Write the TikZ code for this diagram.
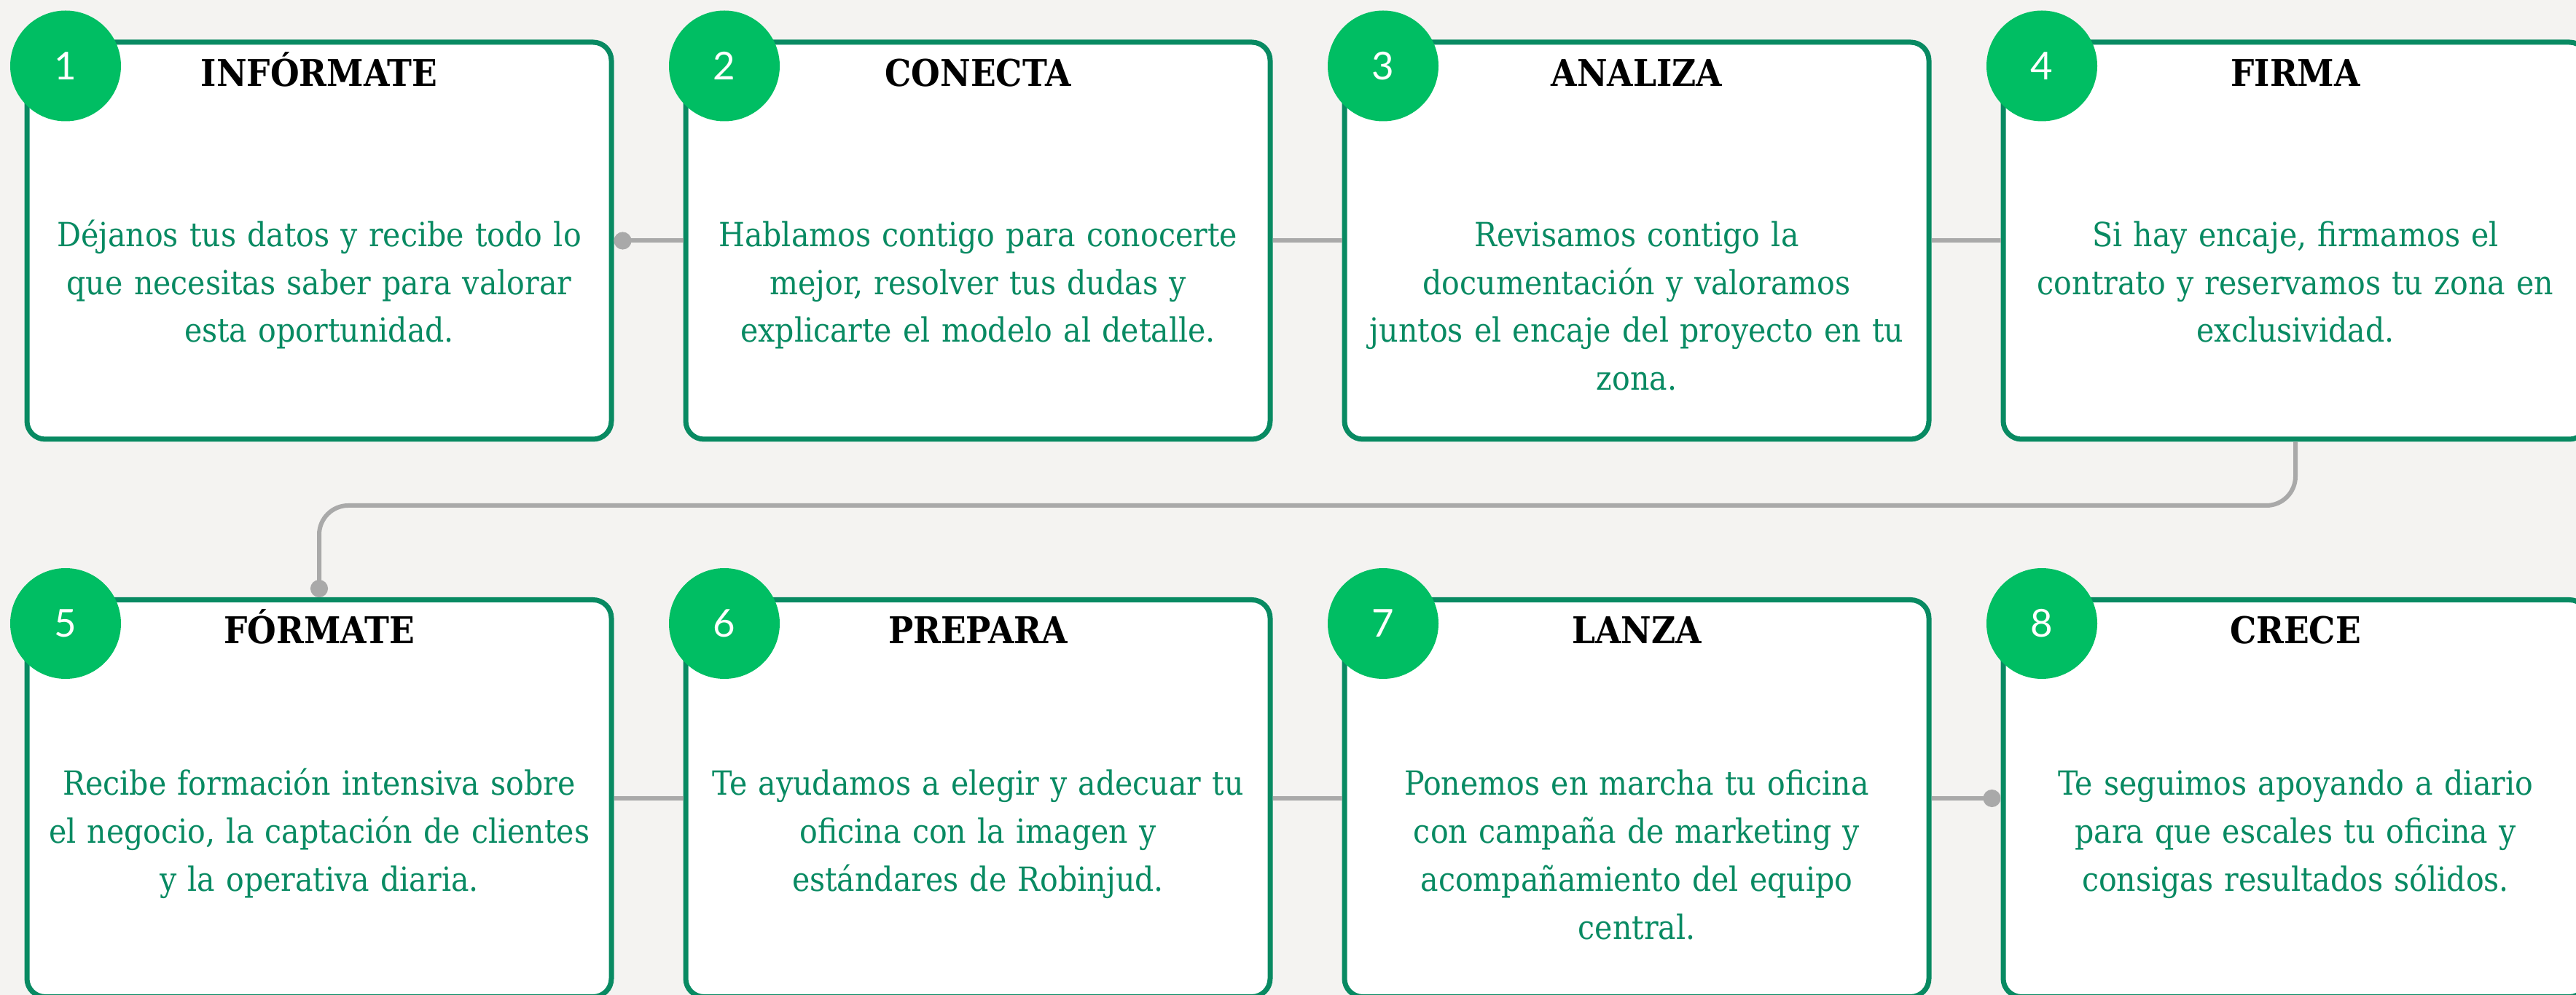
\documentclass[tikz,border=0pt]{standalone}
\usepackage{fontspec}
\setmainfont{DejaVu Serif Condensed}
\newfontfamily\numfont{Lato}
\usetikzlibrary{positioning,calc,arrows.meta}
\definecolor{stepgreen}{HTML}{088A62}
\definecolor{circgreen}{HTML}{00BE63}
\definecolor{linegrey}{HTML}{A9A9A9}
\definecolor{bggrey}{HTML}{F4F3F1}

\begin{document}
\begin{tikzpicture}[
    node distance=2.135cm and 0.95cm,
    stepbox/.style={rectangle,draw=stepgreen,fill=white,line width=0.7mm,rounded corners=2.5mm,minimum width=8.02cm,minimum height=5.45cm},
    num/.style={circle,fill=circgreen,minimum size=1.52cm,inner sep=0pt,text=white,font=\numfont\fontsize{15}{15}\selectfont},
    title/.style={anchor=base,inner sep=0pt,font=\fontsize{14.4}{17}\selectfont\bfseries},
    desc/.style={anchor=base,inner sep=0pt,text width=7.9cm,align=center,text=stepgreen,font=\fontsize{13}{18.7}\selectfont},
    link/.style={draw=linegrey,line width=0.6mm},
    joint/.tip={Circle[length=2.4mm]}
]
    \useasboundingbox (0,0) rectangle (35.35,-13.66);
    \fill[bggrey] (0,0) rectangle (35.35,-13.66);

    % Boxes
    \node[stepbox] (s1) at (4.38,-3.305) {};
    \node[stepbox,right=of s1] (s2) {};
    \node[stepbox,right=of s2] (s3) {};
    \node[stepbox,right=of s3] (s4) {};
    \node[stepbox,below=of s1] (s5) {};
    \node[stepbox,right=of s5] (s6) {};
    \node[stepbox,right=of s6] (s7) {};
    \node[stepbox,right=of s7] (s8) {};

    % Connectors
    \draw[link,{joint}-] (s1) -- (s2);
    \draw[link] (s2) -- (s3);
    \draw[link] (s3) -- (s4);
    \draw[link,rounded corners=4mm,-{joint}] (s4.south) -- ++(0,-0.875) -| (s5.north);
    \draw[link] (s5) -- (s6);
    \draw[link] (s6) -- (s7);
    \draw[link,-{joint}] (s7) -- (s8);

    % Numbers
    \node[num] (n1) at ($(s1.north west)+(0.565,-0.36)$) {1};
    \node[num] (n2) at ($(s2.north west)+(0.565,-0.36)$) {2};
    \node[num] (n3) at ($(s3.north west)+(0.565,-0.36)$) {3};
    \node[num] (n4) at ($(s4.north west)+(0.565,-0.36)$) {4};
    \node[num] (n5) at ($(s5.north west)+(0.565,-0.36)$) {5};
    \node[num] (n6) at ($(s6.north west)+(0.565,-0.36)$) {6};
    \node[num] (n7) at ($(s7.north west)+(0.565,-0.36)$) {7};
    \node[num] (n8) at ($(s8.north west)+(0.565,-0.36)$) {8};

    % Titles
    \node[title] (t1) at ($(s1.north)+(0,-0.64)$) {INFÓRMATE};
    \node[title] (t2) at ($(s2.north)+(0,-0.64)$) {CONECTA};
    \node[title] (t3) at ($(s3.north)+(0,-0.64)$) {ANALIZA};
    \node[title] (t4) at ($(s4.north)+(0,-0.64)$) {FIRMA};
    \node[title] (t5) at ($(s5.north)+(0,-0.64)$) {FÓRMATE};
    \node[title] (t6) at ($(s6.north)+(0,-0.64)$) {PREPARA};
    \node[title] (t7) at ($(s7.north)+(0,-0.64)$) {LANZA};
    \node[title] (t8) at ($(s8.north)+(0,-0.64)$) {CRECE};

    % Descriptions
    \node[desc] (d1) at ($(s1.north)+(0,-2.84)$) {Déjanos tus datos y recibe todo lo\\que necesitas saber para valorar\\esta oportunidad.};
    \node[desc] (d2) at ($(s2.north)+(0,-2.84)$) {Hablamos contigo para conocerte\\mejor, resolver tus dudas y\\explicarte el modelo al detalle.};
    \node[desc] (d3) at ($(s3.north)+(0,-2.84)$) {Revisamos contigo la\\documentación y valoramos\\juntos el encaje del proyecto en tu\\zona.};
    \node[desc] (d4) at ($(s4.north)+(0,-2.84)$) {Si hay encaje, firmamos el\\contrato y reservamos tu zona en\\exclusividad.};
    \node[desc] (d5) at ($(s5.north)+(0,-2.72)$) {Recibe formación intensiva sobre\\el negocio, la captación de clientes\\y la operativa diaria.};
    \node[desc] (d6) at ($(s6.north)+(0,-2.72)$) {Te ayudamos a elegir y adecuar tu\\oficina con la imagen y\\estándares de Robinjud.};
    \node[desc] (d7) at ($(s7.north)+(0,-2.72)$) {Ponemos en marcha tu oficina\\con campaña de marketing y\\acompañamiento del equipo\\central.};
    \node[desc] (d8) at ($(s8.north)+(0,-2.72)$) {Te seguimos apoyando a diario\\para que escales tu oficina y\\consigas resultados sólidos.};
\end{tikzpicture}
\end{document}
